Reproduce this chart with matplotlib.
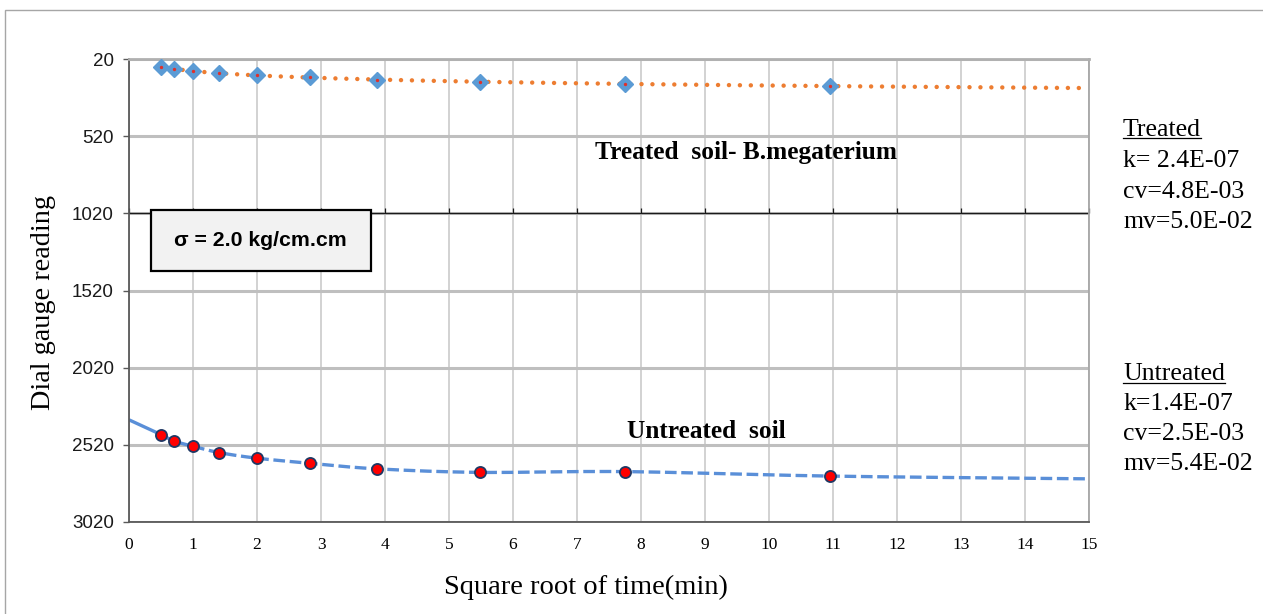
import numpy as np
import matplotlib
matplotlib.use('Agg')
import matplotlib.pyplot as plt
from matplotlib.lines import Line2D
from matplotlib.patches import Rectangle
import matplotlib.markers as mmarkers

# ---------------- data ----------------
sqrt_time = [0.5, 0.707, 1.0, 1.414, 2.0, 2.83, 3.87, 5.48, 7.75, 10.95]
treated_reading = [70, 83, 96, 106, 124, 137, 154, 167, 178, 195]
untreated_reading = [2455, 2497, 2531, 2572, 2608, 2641, 2677, 2700, 2695, 2724]
untreated_start = 2359   # reading extrapolated to sqrt(t) = 0
untreated_end = 2742     # trend reading at sqrt(t) = 15
x_ticks = list(range(0, 16))
y_ticks = [20, 520, 1020, 1520, 2020, 2520, 3020]
treated_params = ["k= 2.4E-07", "cv=4.8E-03", "mv=5.0E-02"]
untreated_params = ["k=1.4E-07", "cv=2.5E-03", "mv=5.4E-02"]

W, H = 1263, 614
fig = plt.figure(figsize=(W / 100, H / 100), dpi=100)


def fx(px):
    return px / W


def fy(py):
    return 1 - py / H


def catmull(xs, ys, n=25):
    p = np.column_stack([xs, ys]).astype(float)
    p = np.vstack([p[0] - (p[1] - p[0]), p, p[-1] + (p[-1] - p[-2])])
    out = []
    t = np.linspace(0, 1, n)[:, None]
    for i in range(1, len(p) - 2):
        p0, p1, p2, p3 = p[i - 1], p[i], p[i + 1], p[i + 2]
        seg = 0.5 * ((2 * p1) + (-p0 + p2) * t + (2 * p0 - 5 * p1 + 4 * p2 - p3) * t ** 2
                     + (-p0 + 3 * p1 - 3 * p2 + p3) * t ** 3)
        out.append(seg if i == 1 else seg[1:])
    out = np.vstack(out)
    return out[:, 0], out[:, 1]


ax = fig.add_axes([fx(129), fy(521.7), fx(1089) - fx(129), fy(59.3) - fy(521.7)])
ax.set_xlim(0, 15)
ax.set_ylim(3020, 20)

# grid
ax.set_xticks(x_ticks)
ax.set_yticks(y_ticks)
ax.xaxis.grid(True, color='#c6c6c6', lw=1.1, zorder=0)
ax.yaxis.grid(True, color='#bfbfbf', lw=2.2, zorder=0)
ax.set_axisbelow(True)

# axis at 1020 with upward ticks
ax.axhline(1020, color='#1a1a1a', lw=0.9, zorder=1)
ax.plot(x_ticks, [1020] * len(x_ticks), ls='none', marker=mmarkers.TICKUP,
        ms=3.5, mew=0.9, color='#1a1a1a', zorder=1, clip_on=False)

# treated trend (log fit)
coef = np.polyfit(np.log(sqrt_time), treated_reading, 1)
xt = np.linspace(sqrt_time[0], 15, 400)
ax.plot(xt, np.polyval(coef, np.log(xt)), color='#ED7D31', lw=3.2,
        ls=(0, (0.01, 2.45)), dash_capstyle='round', zorder=2)
ax.plot(sqrt_time, treated_reading, ls='none', marker='D', ms=8.6,
        color='#5B9BD5', mec='#5B9BD5', zorder=3)
ax.plot(sqrt_time, treated_reading, ls='none', marker='o', ms=1.4,
        color='#e0302a', zorder=4)

# untreated lines
xs1, ys1 = catmull([0] + sqrt_time[:3], [untreated_start] + untreated_reading[:3])
ax.plot(xs1, ys1, color='#5A8FD8', lw=2.4, solid_capstyle='butt', zorder=2)
xs2, ys2 = catmull(sqrt_time[2:] + [15], untreated_reading[2:] + [untreated_end])
ax.plot(xs2, ys2, color='#5A8FD8', lw=2.4, ls=(0, (3.5, 1.4)), zorder=2)
ax.plot(sqrt_time, untreated_reading, ls='none', marker='o', ms=8.0,
        mfc='#ff0000', mec='#1f3864', mew=1.3, zorder=3)

# spines
for s in ['left', 'bottom']:
    ax.spines[s].set_color('#595959')
    ax.spines[s].set_linewidth(1.3)
for s in ['top', 'right']:
    ax.spines[s].set_color('#a6a6a6')
    ax.spines[s].set_linewidth(1.3)
ax.spines['top'].set_color('#b0b0b0')
ax.spines['top'].set_linewidth(2.0)

ax.tick_params(axis='y', direction='out', length=4.5, width=1.0, color='#595959',
               pad=6.5, labelcolor='#1a1a1a')
ax.tick_params(axis='x', length=0, pad=11)
for lab in ax.get_yticklabels():
    lab.set_fontfamily('Liberation Sans')
    lab.set_fontsize(13.5)
for lab in ax.get_xticklabels():
    lab.set_fontfamily('Liberation Serif')
    lab.set_fontsize(12.5)

# axis titles
fig.text(fx(44), fy(302), 'Dial gauge reading', rotation=90, ha='center', va='center',
         family='Liberation Serif', fontsize=20.3)
fig.text(fx(586), fy(587), 'Square root of time(min)', ha='center', va='center',
         family='Liberation Serif', fontsize=20.5)

# annotations
fig.text(fx(595), fy(152), 'Treated  soil- B.megaterium', ha='left', va='center',
         family='Liberation Serif', fontweight='bold', fontsize=18.3)
fig.text(fx(627), fy(432), 'Untreated  soil', ha='left', va='center',
         family='Liberation Serif', fontweight='bold', fontsize=18.3)

# sigma box
fig.add_artist(Rectangle((fx(150.7), fy(270.7)), fx(370.7) - fx(150.7), fy(210) - fy(270.7),
                         transform=fig.transFigure, facecolor='#f2f2f2',
                         edgecolor='#000000', lw=1.6, zorder=5))
fig.text(fx(260.5), fy(240.5), 'σ = 2.0 kg/cm.cm', ha='center', va='center',
         family='Liberation Sans', fontweight='bold', fontsize=15.3, zorder=6)

# right-hand parameter text
head_objs = []
t = fig.text(fx(1123), fy(136), 'Treated', ha='left', va='baseline',
             family='Liberation Serif', fontsize=18.5)
head_objs.append((t, 137.8))
for txt, yb in zip(treated_params, [167, 197.5, 228]):
    fig.text(fx(1123), fy(yb), txt, ha='left', va='baseline',
             family='Liberation Serif', fontsize=18.5)
t = fig.text(fx(1123), fy(380.5), 'Untreated', ha='left', va='baseline',
             family='Liberation Serif', fontsize=18.5)
head_objs.append((t, 382.5))
for txt, yb in zip(untreated_params, [410.5, 440.5, 470.5]):
    fig.text(fx(1123), fy(yb), txt, ha='left', va='baseline',
             family='Liberation Serif', fontsize=18.5)

fig.canvas.draw()
r = fig.canvas.get_renderer()
for t, yu in head_objs:
    bb = t.get_window_extent(r)
    fig.add_artist(Line2D([bb.x0 / W, bb.x1 / W], [fy(yu), fy(yu)],
                          transform=fig.transFigure, color='black', lw=0.9))

# outer frame
fig.add_artist(Rectangle((fx(4.5), -0.2), 2, fy(10.5) + 0.2, transform=fig.transFigure,
                         fill=False, edgecolor='#a6a6a6', lw=1.0, zorder=0))

fig.savefig('out.png', dpi=100)
